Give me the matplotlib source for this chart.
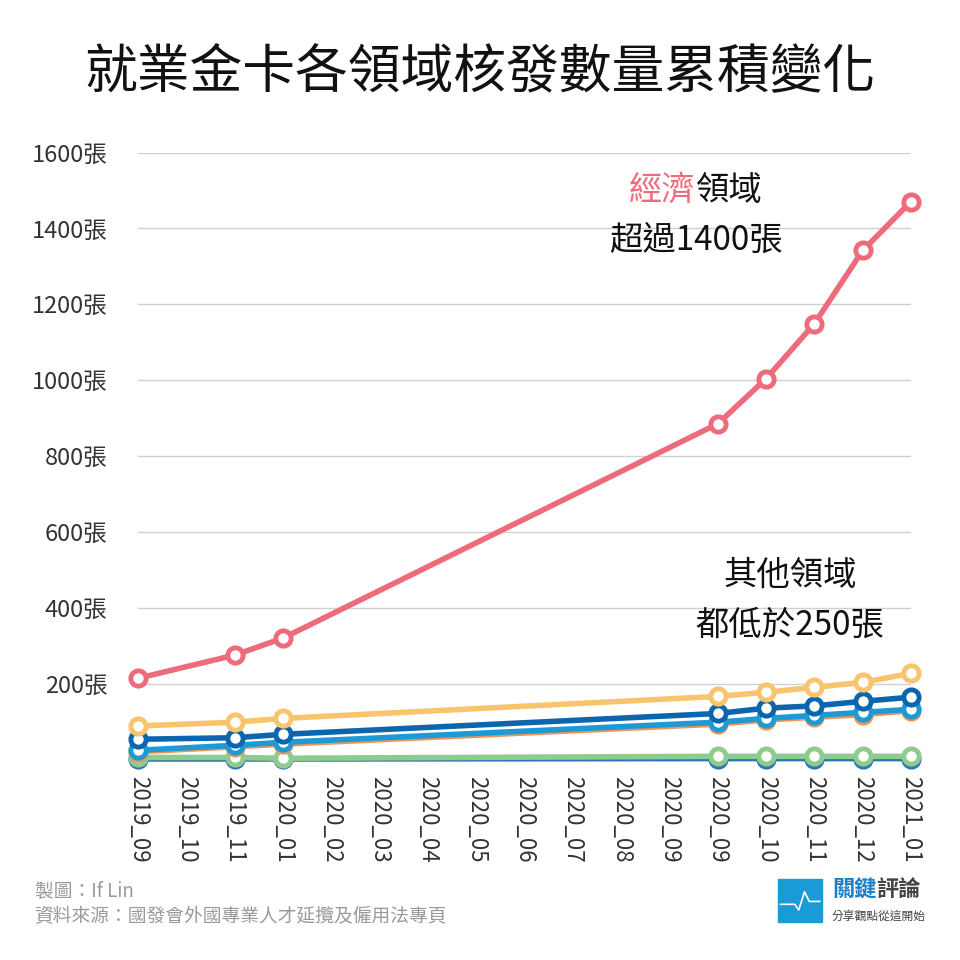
import matplotlib.pyplot as plt
from matplotlib.patches import Rectangle
from matplotlib.lines import Line2D

plt.rcParams['font.family'] = ['Noto Sans CJK TC', 'DejaVu Sans']

x_labels = ['2019_09', '2019_10', '2019_11', '2020_01', '2020_02', '2020_03',
            '2020_04', '2020_05', '2020_06', '2020_07', '2020_08', '2020_09',
            '2020_09', '2020_10', '2020_11', '2020_12', '2021_01']
point_idx = [0, 2, 3, 12, 13, 14, 15, 16]

econ = [214, 275, 320, 885, 1004, 1149, 1342, 1471]
yellow_vals = [88, 98, 108, 166, 177, 190, 203, 227]
darkblue_vals = [53, 57, 66, 121, 135, 141, 153, 164]
orange_vals = [20, 33, 40, 93, 104, 111, 118, 128]
lightblue_vals = [24, 37, 45, 98, 108, 116, 124, 132]
steel_vals = [1, 1, 1, 2, 2, 2, 2, 2]
green_vals = [5, 5, 3, 8, 8, 8, 8, 8]

series = [
    (steel_vals, '#2f74b5'),
    (green_vals, '#8fcb8f'),
    (orange_vals, '#ef9455'),
    (lightblue_vals, '#1c9ad6'),
    (darkblue_vals, '#0b66ad'),
    (yellow_vals, '#f9c46e'),
    (econ, '#ee6b7b'),
]

y_ticks = [200, 400, 600, 800, 1000, 1200, 1400, 1600]

fig = plt.figure(figsize=(9.6, 9.6), dpi=100)
ax = fig.add_axes([0.144, 0.209, 0.805, 0.632])

for vals, c in series:
    ax.plot(point_idx, vals, color=c, lw=4, marker='o', markersize=11,
            markerfacecolor='white', markeredgecolor=c, markeredgewidth=3.5,
            clip_on=False, zorder=3)

ax.set_xlim(0, 16)
ax.set_ylim(0, 1600)
ax.set_yticks(y_ticks)
ax.set_yticklabels([f'{v}張' for v in y_ticks], fontsize=17, color='#333333')
ax.set_xticks(range(len(x_labels)))
ax.set_xticklabels(x_labels, rotation=-90, fontsize=16, color='#333333')
ax.tick_params(length=0, pad=12)
ax.tick_params(axis='y', pad=22)
ax.grid(axis='y', color='#d0d0d0', lw=1)
for s in ax.spines.values():
    s.set_visible(False)

fig.text(0.5, 0.925, '就業金卡各領域核發數量累積變化', ha='center', va='center',
         fontsize=38, color='#111111')

# annotations
fig.text(0.7245, 0.802, '經濟', ha='right', va='center', fontsize=24, color='#ee6b7b')
fig.text(0.7245, 0.802, '領域', ha='left', va='center', fontsize=24, color='#111111')
fig.text(0.725, 0.75, '超過1400張', ha='center', va='center', fontsize=24, color='#111111')
fig.text(0.823, 0.401, '其他領域', ha='center', va='center', fontsize=24, color='#111111')
fig.text(0.823, 0.349, '都低於250張', ha='center', va='center', fontsize=24, color='#111111')

# footer
fig.text(0.036, 0.072, '製圖：If Lin', ha='left', va='center', fontsize=13.5, color='#9a9a9a')
fig.text(0.036, 0.045, '資料來源：國發會外國專業人才延攬及僱用法專頁', ha='left', va='center',
         fontsize=13.5, color='#9a9a9a')

# logo
fig.patches.append(Rectangle((0.8105, 0.04), 0.046, 0.044, transform=fig.transFigure,
                             color='#1a9ad6', zorder=5))
fig.lines.append(Line2D([0.813, 0.828, 0.832, 0.838, 0.843, 0.854],
                        [0.058, 0.058, 0.052, 0.071, 0.061, 0.061],
                        transform=fig.transFigure, color='white', lw=1.2, zorder=6))
fig.text(0.913, 0.073, '關鍵', ha='right', va='center', fontsize=16, fontweight='bold',
         color='#1a7fc4')
fig.text(0.913, 0.073, '評論', ha='left', va='center', fontsize=16, fontweight='bold',
         color='#444444')
fig.text(0.866, 0.046, '分享觀點從這開始', ha='left', va='center', fontsize=8.5, color='#444444')

fig.savefig('out.png', dpi=100, facecolor='white')
